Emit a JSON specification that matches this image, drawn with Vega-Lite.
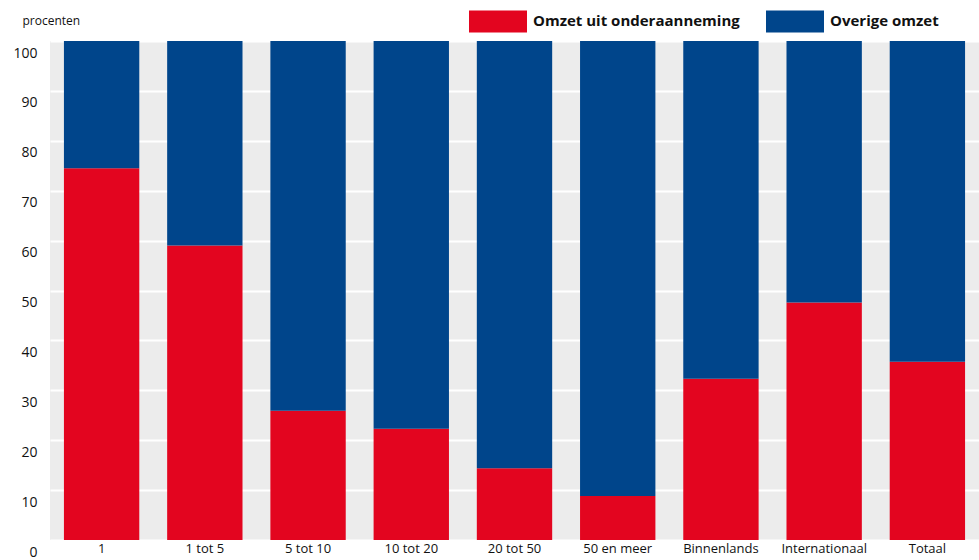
{
  "$schema": "https://vega.github.io/schema/vega-lite/v6.json",
  "width": 929,
  "height": 499,
  "autosize": {"type": "none"},
  "padding": {"left": 50, "top": 41, "right": 0, "bottom": 20},
  "background": "white",
  "config": {
    "view": {"fill": "#ececec", "stroke": null},
    "font": "Open Sans"
  },
  "data": {
    "values": [
      {"groep": "1", "soort": "Omzet uit onderaanneming", "volgorde": 1, "procent": 74.5},
      {"groep": "1", "soort": "Overige omzet", "volgorde": 2, "procent": 25.5},
      {"groep": "1 tot 5", "soort": "Omzet uit onderaanneming", "volgorde": 1, "procent": 59.0},
      {"groep": "1 tot 5", "soort": "Overige omzet", "volgorde": 2, "procent": 41.0},
      {"groep": "5 tot 10", "soort": "Omzet uit onderaanneming", "volgorde": 1, "procent": 25.9},
      {"groep": "5 tot 10", "soort": "Overige omzet", "volgorde": 2, "procent": 74.1},
      {"groep": "10 tot 20", "soort": "Omzet uit onderaanneming", "volgorde": 1, "procent": 22.3},
      {"groep": "10 tot 20", "soort": "Overige omzet", "volgorde": 2, "procent": 77.7},
      {"groep": "20 tot 50", "soort": "Omzet uit onderaanneming", "volgorde": 1, "procent": 14.4},
      {"groep": "20 tot 50", "soort": "Overige omzet", "volgorde": 2, "procent": 85.6},
      {"groep": "50 en meer", "soort": "Omzet uit onderaanneming", "volgorde": 1, "procent": 8.8},
      {"groep": "50 en meer", "soort": "Overige omzet", "volgorde": 2, "procent": 91.2},
      {"groep": "Binnenlands", "soort": "Omzet uit onderaanneming", "volgorde": 1, "procent": 32.3},
      {"groep": "Binnenlands", "soort": "Overige omzet", "volgorde": 2, "procent": 67.7},
      {"groep": "Internationaal", "soort": "Omzet uit onderaanneming", "volgorde": 1, "procent": 47.6},
      {"groep": "Internationaal", "soort": "Overige omzet", "volgorde": 2, "procent": 52.4},
      {"groep": "Totaal", "soort": "Omzet uit onderaanneming", "volgorde": 1, "procent": 35.7},
      {"groep": "Totaal", "soort": "Overige omzet", "volgorde": 2, "procent": 64.3}
    ]
  },
  "mark": {"type": "bar"},
  "encoding": {
    "x": {
      "field": "groep",
      "type": "nominal",
      "sort": null,
      "scale": {"paddingInner": 0.27, "paddingOuter": 0.135},
      "axis": {
        "title": null,
        "labelAngle": 0,
        "domain": false,
        "ticks": false,
        "grid": false,
        "labelFontSize": 13,
        "labelColor": "#111",
        "labelPadding": 2,
        "labelBaseline": "top"
      }
    },
    "y": {
      "field": "procent",
      "type": "quantitative",
      "stack": "zero",
      "scale": {"domain": [0, 100], "nice": false},
      "axis": {
        "values": [0, 10, 20, 30, 40, 50, 60, 70, 80, 90, 100],
        "title": "procenten",
        "titleAngle": 0,
        "titleX": -28,
        "titleY": -21,
        "titleAlign": "left",
        "titleBaseline": "middle",
        "titleFontSize": 12,
        "titleFontWeight": "normal",
        "titleColor": "#111",
        "domain": false,
        "ticks": false,
        "grid": true,
        "gridColor": "white",
        "gridWidth": 2,
        "labelFontSize": 14,
        "labelColor": "#111",
        "labelPadding": 13,
        "labelOffset": 12,
        "labelBaseline": "middle",
        "labelBound": false,
        "labelOverlap": false
      }
    },
    "order": {"field": "volgorde", "type": "quantitative", "sort": "ascending"},
    "color": {
      "field": "soort",
      "type": "nominal",
      "scale": {
        "domain": ["Omzet uit onderaanneming", "Overige omzet"],
        "range": ["#e3051f", "#00458b"]
      },
      "legend": {
        "title": null,
        "orient": "none",
        "legendX": 419,
        "legendY": -49,
        "direction": "horizontal",
        "symbolType": "M-1,-0.38H1V0.38H-1Z",
        "symbolSize": 3364,
        "symbolStrokeWidth": 0,
        "symbolOpacity": 1,
        "labelFontSize": 15,
        "labelFontWeight": "bold",
        "labelColor": "#111",
        "labelOffset": 6,
        "labelLimit": 400,
        "columnPadding": 26
      }
    }
  }
}
